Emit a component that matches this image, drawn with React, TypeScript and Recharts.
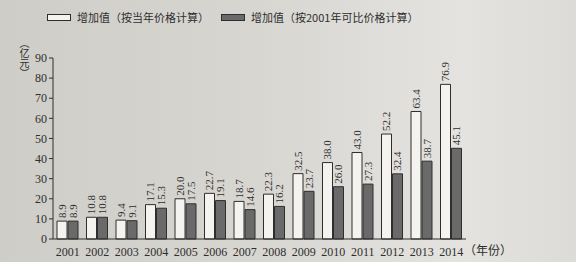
import React from 'react';
import { BarChart, Bar, XAxis, YAxis, Legend, LabelList } from 'recharts';

// 年份
const years = ['2001', '2002', '2003', '2004', '2005', '2006', '2007', '2008', '2009', '2010', '2011', '2012', '2013', '2014'];
// 增加值（按当年价格计算），亿元
const currentPrice = [8.9, 10.8, 9.4, 17.1, 20.0, 22.7, 18.7, 22.3, 32.5, 38.0, 43.0, 52.2, 63.4, 76.9];
// 增加值（按2001年可比价格计算），亿元
const comparablePrice = [8.9, 10.8, 9.1, 15.3, 17.5, 19.1, 14.6, 16.2, 23.7, 26.0, 27.3, 32.4, 38.7, 45.1];
const yTicks = [0, 10, 20, 30, 40, 50, 60, 70, 80, 90];

const seriesNames = ['增加值（按当年价格计算）', '增加值（按2001年可比价格计算）'];
const yUnit = '（亿元）';
const xUnit = '（年份）';

const data = years.map((year, i) => ({
  year,
  current: currentPrice[i],
  comparable: comparablePrice[i],
}));

const ink = '#2e2e2e';
const serif = "'Liberation Serif', 'DejaVu Serif', serif";
const cjk = "'Noto Sans CJK SC', sans-serif";

const VerticalValue = (props: any) => {
  const { x, y, width, value } = props;
  const cx = x + width / 2;
  const ty = y - 3;
  return (
    <text
      x={cx}
      y={ty}
      transform={`rotate(-90 ${cx} ${ty})`}
      textAnchor="start"
      dominantBaseline="central"
      fontSize={11}
      fontFamily={serif}
      fill={ink}
    >
      {Number(value).toFixed(1)}
    </text>
  );
};

const LegendBox = () => (
  <div style={{ display: 'flex', alignItems: 'center', fontFamily: cjk, fontSize: 11, color: ink }}>
    <span style={{ width: 22, height: 5, border: `1px solid ${ink}`, background: '#f4f3f0', marginRight: 6 }} />
    <span>{seriesNames[0]}</span>
    <span style={{ width: 22, height: 5, border: `1px solid ${ink}`, background: '#6a6a6a', marginLeft: 12, marginRight: 6 }} />
    <span>{seriesNames[1]}</span>
  </div>
);

export default function App() {
  return (
    <div
      style={{
        position: 'absolute',
        left: 0,
        top: 0,
        width: 576,
        height: 262,
        background: 'linear-gradient(90deg, #cfcdc8 0%, #d8d6d1 45%, #e4e3e0 80%, #dcdbd7 100%)',
      }}
    >
      {/* 纵轴单位，竖排 */}
      <div
        style={{
          position: 'absolute',
          left: 19,
          top: 38,
          writingMode: 'vertical-rl',
          fontFamily: cjk,
          fontSize: 10,
          lineHeight: 1,
          color: ink,
        }}
      >
        {yUnit}
      </div>
      <BarChart
        width={576}
        height={262}
        data={data}
        margin={{ top: 42, right: 110, left: 0, bottom: 0 }}
        barSize={10}
        barGap={1}
      >
        <Legend
          verticalAlign="top"
          content={() => <LegendBox />}
          wrapperStyle={{ top: 9, left: 47, width: 'auto' }}
        />
        <XAxis
          dataKey="year"
          height={23}
          axisLine={{ stroke: ink }}
          tickLine={false}
          interval={0}
          tick={{ fontSize: 12, fontFamily: serif, fill: ink }}
          label={{
            content: (p: any) => (
              <text
                x={p.viewBox.x + p.viewBox.width - 2}
                y={p.viewBox.y + 16}
                fontSize={12}
                fontFamily={cjk}
                fill={ink}
              >
                {xUnit}
              </text>
            ),
          }}
        />
        <YAxis
          width={53}
          domain={[0, 90]}
          ticks={yTicks}
          interval={0}
          axisLine={{ stroke: ink }}
          tickLine={{ stroke: ink }}
          tickSize={4}
          tick={{ fontSize: 12, fontFamily: serif, fill: ink }}
        />
        <Bar dataKey="current" name={seriesNames[0]} fill="#f4f3f0" stroke={ink} strokeWidth={1} isAnimationActive={false}>
          <LabelList dataKey="current" content={VerticalValue} />
        </Bar>
        <Bar dataKey="comparable" name={seriesNames[1]} fill="#6a6a6a" stroke={ink} strokeWidth={1} isAnimationActive={false}>
          <LabelList dataKey="comparable" content={VerticalValue} />
        </Bar>
      </BarChart>
    </div>
  );
}
